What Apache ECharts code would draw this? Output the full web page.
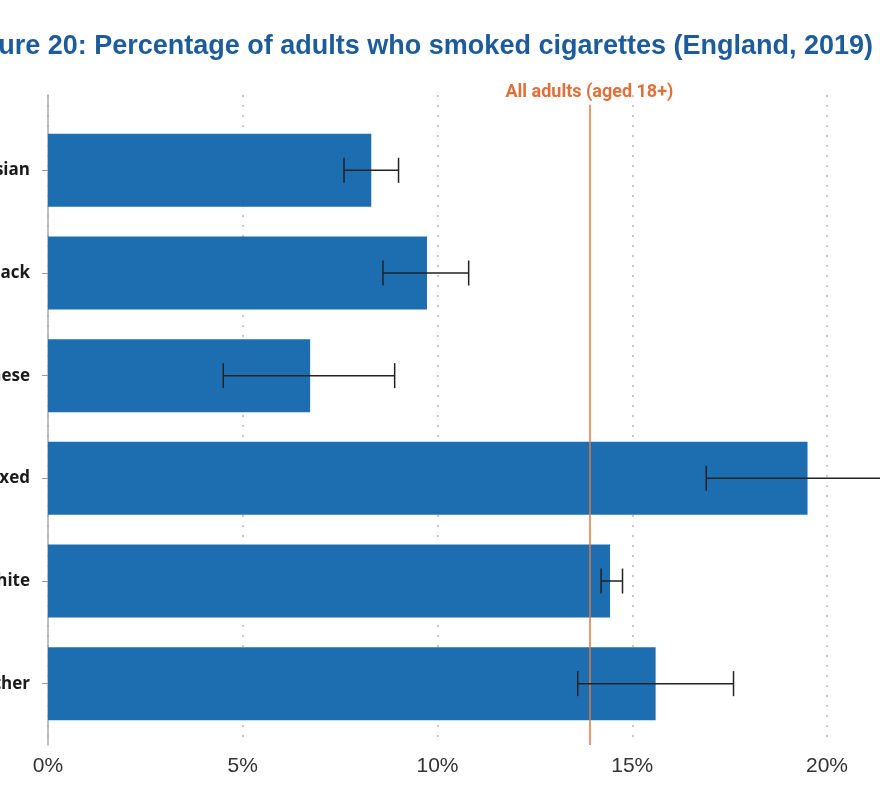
<!DOCTYPE html>
<html>
<head>
<meta charset="utf-8">
<script src="https://cdn.jsdelivr.net/npm/echarts@6/dist/echarts.min.js"></script>
<style>html,body{margin:0;padding:0;background:#fff}#c{width:880px;height:792px}</style>
</head>
<body>
<div id="c"></div>
<script>
const titleText = 'Figure 20: Percentage of adults who smoked cigarettes (England, 2019)';
const categories = ['Asian', 'Black', 'Chinese', 'Mixed', 'White', 'Other'];
const values = [8.3, 9.73, 6.73, 19.5, 14.43, 15.6];
const ciLow = [7.6, 8.6, 4.5, 16.9, 14.2, 13.6];
const ciHigh = [9.0, 10.8, 8.9, 22.4, 14.75, 17.6];
const allAdults = 13.9;
const allAdultsLabel = 'All adults (aged 18+)';

const chart = echarts.init(document.getElementById('c'), null, {renderer: 'canvas'});
const errData = categories.map((c, i) => [i, ciLow[i], ciHigh[i]]);

chart.setOption({
  backgroundColor: '#ffffff',
  animation: false,
  graphic: [{
    type: 'text', x: 873, y: 47, z: 10,
    style: {text: titleText, textAlign: 'right', textVerticalAlign: 'middle',
            fill: '#1d5c9c', font: 'bold 27px "Liberation Sans"'}
  }],
  grid: [
    {left: 48, right: 53, top: 119, bottom: 57, containLabel: false, outerBoundsMode: 'none'},
    {left: 48, right: 53, top: 95, bottom: 47, containLabel: false, outerBoundsMode: 'none'}
  ],
  xAxis: [
    {gridIndex: 0, type: 'value', min: 0, max: 20, show: false},
    {gridIndex: 1, type: 'value', min: 0, max: 20, interval: 5,
     axisLine: {show: false}, axisTick: {show: false},
     axisLabel: {formatter: v => v + '%', color: '#333', fontSize: 21, fontFamily: 'Liberation Sans', margin: 11},
     splitLine: {show: true, lineStyle: {type: [2, 8], color: '#b5b5b5', width: 1.5}}}
  ],
  yAxis: [
    {gridIndex: 0, type: 'category', data: categories, inverse: true,
     axisLine: {show: false},
     axisTick: {show: true, alignWithLabel: true, length: 6, lineStyle: {color: '#999'}},
     axisLabel: {color: '#1a1a1a', fontSize: 17, fontWeight: 'bold', fontFamily: 'Open Sans', margin: 18}},
    {gridIndex: 1, type: 'value', min: 0, max: 100, axisLabel: {show: false}, splitLine: {show: false},
     axisTick: {show: false}, axisLine: {show: true, onZero: false, lineStyle: {color: '#aaa', width: 1.5}}}
  ],
  series: [
    {type: 'bar', xAxisIndex: 0, yAxisIndex: 0, data: values, barWidth: 73,
     itemStyle: {color: '#1c6eb0'}},
    {type: 'custom', xAxisIndex: 0, yAxisIndex: 0, data: errData, z: 5,
     renderItem: function (params, api) {
       const i = api.value(0);
       const lo = api.coord([api.value(1), i]);
       const hi = api.coord([api.value(2), i]);
       const h = 12.5;
       const st = {stroke: '#222', lineWidth: 1.5};
       return {type: 'group', children: [
         {type: 'line', shape: {x1: lo[0], y1: lo[1], x2: hi[0], y2: hi[1]}, style: st},
         {type: 'line', shape: {x1: lo[0], y1: lo[1] - h, x2: lo[0], y2: lo[1] + h}, style: st},
         {type: 'line', shape: {x1: hi[0], y1: hi[1] - h, x2: hi[0], y2: hi[1] + h}, style: st}
       ]};
     }},
    {type: 'line', xAxisIndex: 1, yAxisIndex: 1, data: [], z: 1,
     markLine: {symbol: 'none', silent: true,
       lineStyle: {color: '#e07a45', width: 1.5, type: 'solid'},
       label: {show: true, position: 'end', formatter: allAdultsLabel, color: '#e0703a',
               fontSize: 18, fontWeight: 'bold', fontFamily: 'Roboto', distance: 3},
       data: [[{coord: [allAdults, 0]}, {coord: [allAdults, 98.5]}]]}}
  ]
});
</script>
</body>
</html>
